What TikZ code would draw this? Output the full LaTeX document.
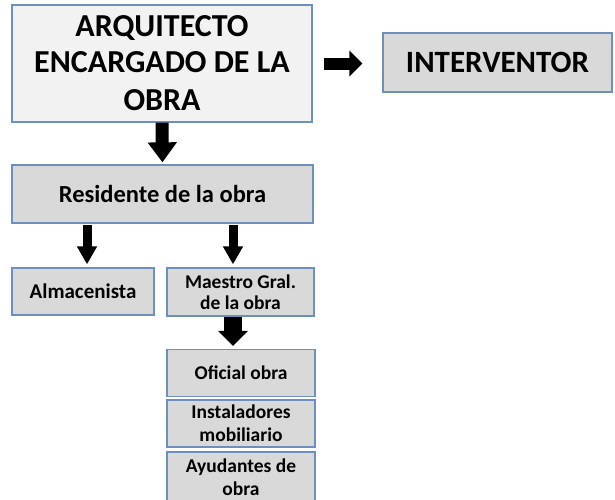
\documentclass[tikz,border=0pt]{standalone}
\usepackage{fontspec}
\setmainfont{Carlito}
\usetikzlibrary{arrows.meta}
\definecolor{bordc}{HTML}{6F8FBC}
\definecolor{lightf}{HTML}{F2F2F2}
\definecolor{midf}{HTML}{D9D9D9}
\tikzset{
  box/.style={draw=bordc, line width=1.3pt, fill=midf, align=center, inner sep=0pt, font=\bfseries},
  bigarrow/.style={line width=#1, draw=black},
}
\begin{document}
\begin{tikzpicture}[x=1pt,y=-1pt]
\useasboundingbox (0,0) rectangle (615,499);
\node[box, fill=lightf, minimum width=300pt, minimum height=117pt, font=\bfseries\fontsize{32}{38}\selectfont] (arq) at (162,63.5) {\raisebox{-2pt}{ARQUITECTO}\\ENCARGADO DE LA\\OBRA};
\node[box, minimum width=229pt, minimum height=59pt, font=\bfseries\fontsize{31}{36}\selectfont] (int) at (497.5,62.5) {INTERVENTOR};
\node[box, minimum width=301pt, minimum height=58pt, font=\bfseries\fontsize{24.5}{28}\selectfont] (res) at (162.5,194) {Residente de la obra};
\node[box, minimum width=142pt, minimum height=47pt, font=\bfseries\fontsize{21}{24}\selectfont] (alm) at (83,291.5) {Almacenista};
\node[box, minimum width=147pt, minimum height=48pt, font=\bfseries\fontsize{19.5}{21}\selectfont] (mae) at (240.5,292) {Maestro Gral.\\de la obra};
\node[box, minimum width=148pt, minimum height=47pt, font=\bfseries\fontsize{19.5}{23}\selectfont] (ofi) at (241,373) {Oficial obra};
\node[box, minimum width=148pt, minimum height=47pt, font=\bfseries\fontsize{19.5}{23}\selectfont] (ins) at (241,423.5) {Instaladores\\mobiliario};
\node[box, minimum width=148pt, minimum height=50pt, font=\bfseries\fontsize{19.5}{23}\selectfont] (ayu) at (241,477) {Ayudantes de\\obra};
% arrows
\draw[bigarrow=12pt, -{Triangle[length=13pt,width=25pt]}, shorten <=11pt, shorten >=20pt] (arq.east) -- (arq.east -| int.west);
\draw[bigarrow=13pt, -{Triangle[length=20pt,width=28pt]}, shorten >=2pt] (arq.south) -- (res.north);
\draw[bigarrow=9pt, -{Triangle[length=18pt,width=19pt]}, shorten <=1pt, shorten >=3pt] ([xshift=4pt]alm.north |- res.south) -- ([xshift=4pt]alm.north);
\draw[bigarrow=9pt, -{Triangle[length=18pt,width=19pt]}, shorten <=1pt, shorten >=3pt] ([xshift=-7.5pt]mae.north |- res.south) -- ([xshift=-7.5pt]mae.north);
\draw[bigarrow=18pt, -{Triangle[length=15pt,width=29pt]}, shorten >=3pt] ([xshift=-7.5pt]mae.south) -- ([xshift=-7.5pt]mae.south |- ofi.north);
\end{tikzpicture}
\end{document}
